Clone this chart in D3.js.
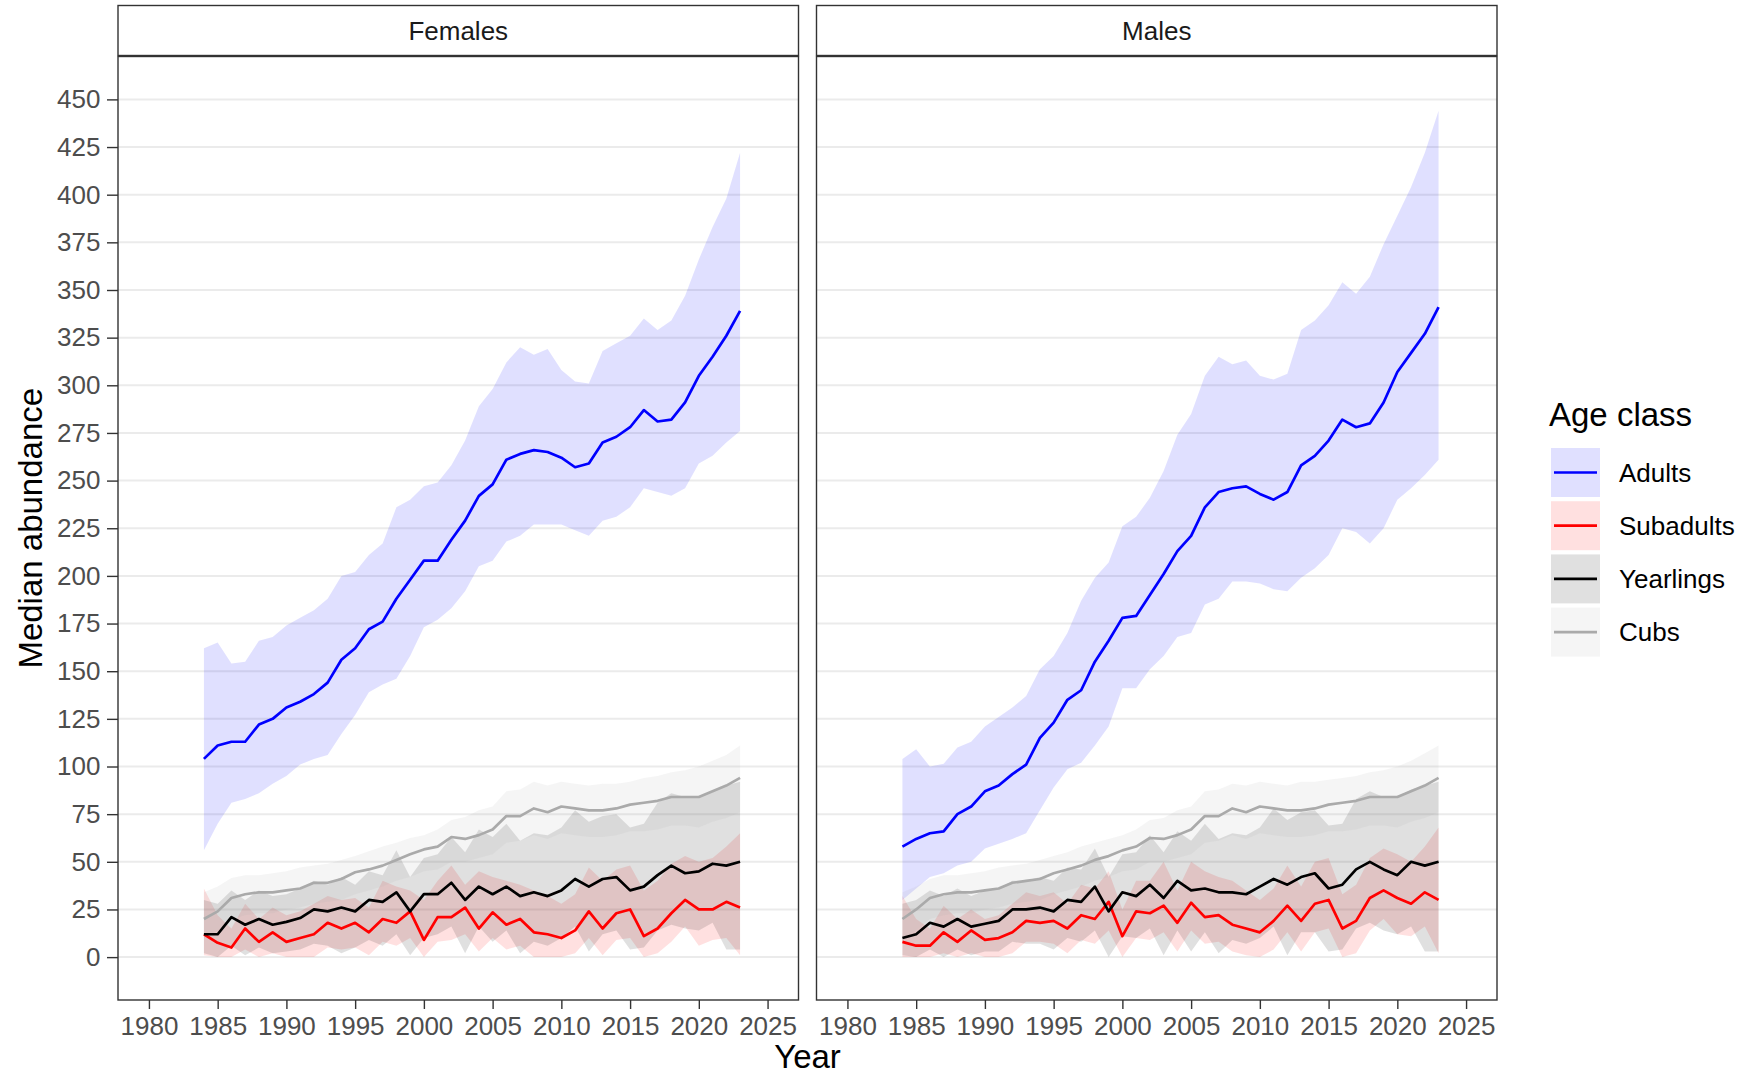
<!DOCTYPE html>
<html>
<head>
<meta charset="utf-8">
<script src="https://cdn.jsdelivr.net/npm/d3@7"></script>
<style>
  body { margin: 0; background: #fff; }
  svg { display: block; font-family: 'Liberation Sans', Arial, sans-serif; }
</style>
</head>
<body>
<div id="chart"></div>
<script>
// data (1984-2023)
const years = [1984, 1985, 1986, 1987, 1988, 1989, 1990, 1991, 1992, 1993,
  1994, 1995, 1996, 1997, 1998, 1999, 2000, 2001, 2002, 2003,
  2004, 2005, 2006, 2007, 2008, 2009, 2010, 2011, 2012, 2013,
  2014, 2015, 2016, 2017, 2018, 2019, 2020, 2021, 2022, 2023]

const sexes = ['Females', 'Males']
const ageClasses = ['Adults', 'Subadults', 'Yearlings', 'Cubs']
const xTicks = [1980, 1985, 1990, 1995, 2000, 2005, 2010, 2015, 2020, 2025]
const yTicks = [0, 25, 50, 75, 100, 125, 150, 175, 200, 225, 250, 275, 300, 325, 350, 375, 400, 425, 450]

// Females
const femAdultsMed = [104, 111, 113, 113, 122, 125, 131, 134, 138, 144, 156, 162, 172, 176, 188, 198, 208, 208, 219, 229, 242, 248, 261, 264, 266, 265, 262, 257, 259, 270, 273, 278, 287, 281, 282, 291, 305, 315, 326, 339]
const femAdultsLo = [56, 70, 81, 83, 86, 91, 95, 101, 104, 106, 117, 127, 139, 143, 146, 158, 173, 177, 183, 192, 205, 208, 218, 221, 227, 227, 227, 224, 221, 229, 231, 236, 246, 244, 242, 246, 259, 263, 270, 276]
const femAdultsHi = [162, 165, 154, 155, 166, 168, 174, 178, 182, 188, 200, 202, 211, 217, 236, 240, 247, 249, 258, 271, 289, 298, 312, 320, 316, 319, 308, 302, 301, 318, 322, 326, 335, 329, 334, 347, 366, 383, 398, 422]

const femSubMed = [12, 7.5, 5, 15, 8, 13, 8, 10, 12, 18, 15, 18, 13, 20, 18, 24, 9, 21, 21, 26, 15, 23.5, 17, 20, 13, 12, 10, 14, 24, 15, 23, 25, 11, 15, 23, 30, 25, 25, 29, 26]
const femSubLo = [1, 0, 0, 4, 0, 2, 0, 0, 0, 5, 4, 5, 1, 8, 6, 10, 0, 8, 9, 12, 3, 10, 4, 6, 0, 0, 0, 2, 10, 1, 9, 10, 0, 2, 8, 16, 6, 9, 10, 1]
const femSubHi = [36, 22, 15, 28, 20, 26, 22, 24, 28, 32, 30, 31, 26, 40, 37, 35, 30, 40, 48, 38, 45, 42, 40, 38, 35, 32, 28, 33, 47, 40, 46, 48, 35, 40, 49, 53, 50, 52, 58, 65]

const femYearMed = [12, 12, 21, 17, 20, 17, 18.5, 20.5, 25, 24, 26, 24, 30, 29, 34, 24, 33, 33, 39, 30, 37, 33, 37, 32, 34, 32, 35, 41, 37, 41, 42, 35, 37, 43, 48, 44, 45, 49, 48, 50]
const femYearLo = [2, 0, 6, 1, 5, 2, 3, 4, 7, 6, 2, 5, 9, 6, 12, 1, 10, 12, 16, 2, 16, 8, 14, 2, 8, 6, 10, 16, 3, 12, 14, 4, 5, 14, 17, 15, 14, 18, 4, 4]
const femYearHi = [30, 28, 35, 30, 35, 32, 33, 36, 40, 38, 42, 38, 45, 43, 56, 42, 52, 54, 63, 55, 67, 63, 70, 61, 65, 64, 68, 77, 71, 74, 75, 68, 70, 81, 86, 84, 84, 87, 90, 92]

const femCubsMed = [20, 24, 31, 33, 34, 34, 35, 36, 39, 39, 41, 44.5, 46, 48, 51, 54, 56.5, 58, 63, 62, 64, 67, 74, 74, 78, 76, 79, 78, 77, 77, 78, 80, 81, 82, 84, 84, 84, 87, 90, 94]
const femCubsLo = [10, 14, 20, 22, 23, 23, 25, 26, 28, 29, 30, 33, 35, 37, 40, 42, 45, 46, 50, 50, 52, 54, 60, 61, 64, 62, 65, 64, 63, 63, 64, 66, 66, 67, 69, 69, 68, 71, 73, 76]
const femCubsHi = [34, 37, 41.5, 43, 43, 44, 45, 47, 48, 49, 51, 53, 55.5, 58, 60, 62.5, 64, 67, 72, 73.5, 77, 79, 87, 88, 92, 90, 92, 91, 90, 91, 91, 92, 94, 95, 97, 98, 100, 103, 106, 111]

// Males
const malAdultsMed = [58, 62, 65, 66, 75, 79, 87, 90, 96, 101, 115, 123, 135, 140, 155, 166, 178, 179, 190, 201, 213, 221, 236, 244, 246, 247, 243, 240, 244, 258, 263, 271, 282, 278, 280, 291, 307, 317, 327, 341]
const malAdultsLo = [30, 36, 42, 44, 48, 50, 57, 59.5, 62, 65, 77, 89, 98.5, 102, 111, 121, 141, 141, 151, 158, 168, 170, 185, 188, 197, 197, 196, 193, 192, 199, 204, 211, 225, 223, 217, 225, 240, 246, 253, 261]
const malAdultsHi = [104, 109, 100, 101.5, 110, 113, 121, 126, 131, 137, 151, 158, 170, 187, 199, 207, 226, 231, 241, 255, 274, 285, 305, 315, 311, 313, 305, 303, 306, 329, 334, 342, 354, 348, 357, 374, 389, 404, 422, 444]

const malSubMed = [8, 6, 6, 13, 8, 14, 9, 10, 13, 19, 18, 19, 15, 22, 20, 29, 11, 24, 23, 27, 18, 28.5, 21, 22, 17, 15, 13, 19, 27, 19, 28, 30, 15, 19, 31, 35, 31, 28, 34, 30]
const malSubLo = [0, 0, 0, 2, 0, 2, 0, 0, 2, 8, 8, 7, 2, 9, 7, 14, 0, 10, 9, 13, 3, 14, 7, 8, 3, 1, 0, 4, 13, 3, 13, 15, 0, 2, 14, 20, 12, 11, 16, 2]
const malSubHi = [32, 20, 15, 27, 20, 25, 20, 22, 28, 34, 32, 34, 28, 38, 36, 45, 25, 40, 40, 50, 35, 50, 45, 42, 40, 35, 30, 36, 48, 37, 50, 52, 33, 38, 52, 57, 54, 50, 58, 68]

const malYearMed = [10, 12, 18, 16, 20, 16, 17.5, 19, 25, 25, 26, 24, 30, 29, 37, 24, 34, 32, 38, 31, 40, 35, 36, 34, 34, 33, 37, 41, 38, 42, 44, 36, 38, 46, 50, 46, 43, 50, 48, 50]
const malYearLo = [1, 0, 4, 0, 4, 1, 3, 3, 8, 7, 7, 4, 10, 8, 14, 0, 11, 10, 15, 1, 14, 3, 13, 2, 9, 7, 10, 16, 1, 13, 13, 3, 4, 15, 18, 14, 12, 16, 3, 3]
const malYearHi = [28, 30, 35, 32, 36, 32, 35, 36, 40, 40, 42, 40, 47, 46, 57, 42, 54, 55, 64, 55, 66, 61, 70, 62, 65, 64, 68, 78, 72, 76, 77, 69, 70, 83, 87, 84, 84, 88, 90, 92]

const malCubsMed = [20, 25, 31, 33, 34, 34, 35, 36, 39, 40, 41, 44, 46, 48, 51, 53, 56, 58, 62.5, 62, 64, 67, 74, 74, 78, 76, 79, 78, 77, 77, 78, 80, 81, 82, 84, 84, 84, 87, 90, 94]
const malCubsLo = [10, 14, 20, 22, 23, 23, 25, 26, 28, 29, 30, 33, 35, 37, 40, 42, 45, 46, 50, 50, 52, 54, 60, 61, 64, 62, 65, 64, 63, 63, 64, 66, 66, 67, 69, 69, 68, 71, 73, 76]
const malCubsHi = [34, 37, 41, 43, 43, 44, 45, 47, 48, 49, 51, 53, 55, 58, 60, 62, 64, 67, 72, 73, 77, 79, 87, 88, 91, 90, 92, 91, 90, 92, 92, 93, 94, 95, 97, 98, 100, 103, 107, 111]

const series = {
  Females: {
    Adults: { med: femAdultsMed, lo: femAdultsLo, hi: femAdultsHi },
    Subadults: { med: femSubMed, lo: femSubLo, hi: femSubHi },
    Yearlings: { med: femYearMed, lo: femYearLo, hi: femYearHi },
    Cubs: { med: femCubsMed, lo: femCubsLo, hi: femCubsHi }
  },
  Males: {
    Adults: { med: malAdultsMed, lo: malAdultsLo, hi: malAdultsHi },
    Subadults: { med: malSubMed, lo: malSubLo, hi: malSubHi },
    Yearlings: { med: malYearMed, lo: malYearLo, hi: malYearHi },
    Cubs: { med: malCubsMed, lo: malCubsLo, hi: malCubsHi }
  }
}

const colors = { Adults: '#0000ff', Subadults: '#ff0000', Yearlings: '#000000', Cubs: '#aaaaaa' }
const bandAlpha = 0.12

const width = 1747
const height = 1076
const panelTop = 56.5
const panelBottom = 1000
const stripTop = 5.5
const stripBottom = 55.5
const panels = [
  { sex: 'Females', left: 118, right: 798.5 },
  { sex: 'Males', left: 816.5, right: 1497 }
]

const svg = d3.select('#chart').append('svg')
  .attr('width', width)
  .attr('height', height)

svg.append('rect')
  .attr('width', width)
  .attr('height', height)
  .attr('fill', '#fff')

const y = d3.scaleLinear()
  .domain([-22.5, 472.5])
  .range([panelBottom, panelTop])

panels.forEach((p, pi) => {
  const x = d3.scaleLinear()
    .domain([1977.75, 2027.25])
    .range([p.left, p.right])

  const rows = ageClasses.map(k => ({
    key: k,
    values: years.map((yr, i) => ({
      year: yr,
      med: series[p.sex][k].med[i],
      lo: series[p.sex][k].lo[i],
      hi: series[p.sex][k].hi[i]
    }))
  }))

  const area = d3.area()
    .x(d => x(d.year))
    .y0(d => y(d.lo))
    .y1(d => y(d.hi))

  const line = d3.line()
    .x(d => x(d.year))
    .y(d => y(d.med))

  const g = svg.append('g')

  // horizontal grid only
  g.append('g')
    .selectAll('line')
    .data(yTicks)
    .join('line')
    .attr('x1', p.left)
    .attr('x2', p.right)
    .attr('y1', d => y(d))
    .attr('y2', d => y(d))
    .attr('stroke', '#ebebeb')
    .attr('stroke-width', 2)

  g.append('g')
    .selectAll('path')
    .data(rows)
    .join('path')
    .attr('d', d => area(d.values))
    .attr('fill', d => colors[d.key])
    .attr('fill-opacity', bandAlpha)
    .attr('stroke', 'none')

  g.append('g')
    .selectAll('path')
    .data(rows)
    .join('path')
    .attr('d', d => line(d.values))
    .attr('fill', 'none')
    .attr('stroke', d => colors[d.key])
    .attr('stroke-width', 2.7)
    .attr('stroke-linejoin', 'round')

  // panel border
  g.append('rect')
    .attr('x', p.left)
    .attr('y', panelTop)
    .attr('width', p.right - p.left)
    .attr('height', panelBottom - panelTop)
    .attr('fill', 'none')
    .attr('stroke', '#333')
    .attr('stroke-width', 1.4)

  // strip
  g.append('rect')
    .attr('x', p.left)
    .attr('y', stripTop)
    .attr('width', p.right - p.left)
    .attr('height', stripBottom - stripTop)
    .attr('fill', '#fff')
    .attr('stroke', '#333')
    .attr('stroke-width', 1.4)

  g.append('text')
    .attr('x', (p.left + p.right) / 2)
    .attr('y', (stripTop + stripBottom) / 2)
    .attr('text-anchor', 'middle')
    .attr('dominant-baseline', 'central')
    .attr('font-size', 26)
    .attr('fill', '#1a1a1a')
    .text(p.sex)

  // x axis
  const xAxis = g.append('g')
    .attr('transform', `translate(0,${panelBottom})`)
    .call(d3.axisBottom(x).tickValues(xTicks).tickFormat(d3.format('d')).tickSize(9).tickPadding(8))
  xAxis.select('.domain').remove()
  xAxis.selectAll('line').attr('stroke', '#333').attr('stroke-width', 1.4)
  xAxis.selectAll('text')
    .attr('font-size', 26)
    .attr('font-family', 'Liberation Sans, Arial, sans-serif')
    .attr('fill', '#4d4d4d')

  if (pi === 0) {
    const yAxis = g.append('g')
      .attr('transform', `translate(${p.left},0)`)
      .call(d3.axisLeft(y).tickValues(yTicks).tickSize(11).tickPadding(6.5))
    yAxis.select('.domain').remove()
    yAxis.selectAll('line').attr('stroke', '#333').attr('stroke-width', 1.4)
    yAxis.selectAll('text')
      .attr('font-size', 26)
      .attr('font-family', 'Liberation Sans, Arial, sans-serif')
      .attr('fill', '#4d4d4d')
  }
})

// axis titles
svg.append('text')
  .attr('x', (panels[0].left + panels[1].right) / 2)
  .attr('y', 1068)
  .attr('text-anchor', 'middle')
  .attr('font-size', 33)
  .attr('fill', '#000')
  .text('Year')

svg.append('text')
  .attr('transform', `translate(42,${(panelTop + panelBottom) / 2}) rotate(-90)`)
  .attr('text-anchor', 'middle')
  .attr('font-size', 33)
  .attr('fill', '#000')
  .text('Median abundance')

// legend
const legend = svg.append('g')
  .attr('transform', 'translate(1549,0)')

legend.append('text')
  .attr('x', 0)
  .attr('y', 426)
  .attr('font-size', 33)
  .attr('fill', '#000')
  .text('Age class')

const keys = legend.selectAll('g.key')
  .data(ageClasses)
  .join('g')
  .attr('class', 'key')
  .attr('transform', (d, i) => `translate(2,${448 + i * 53.2})`)

keys.append('rect')
  .attr('width', 49)
  .attr('height', 49)
  .attr('fill', d => colors[d])
  .attr('fill-opacity', bandAlpha)

keys.append('line')
  .attr('x1', 3)
  .attr('x2', 46)
  .attr('y1', 24.5)
  .attr('y2', 24.5)
  .attr('stroke', d => colors[d])
  .attr('stroke-width', 2.7)

keys.append('text')
  .attr('x', 68)
  .attr('y', 24.5)
  .attr('dominant-baseline', 'central')
  .attr('font-size', 26)
  .attr('fill', '#000')
  .text(d => d)
</script>
</body>
</html>
